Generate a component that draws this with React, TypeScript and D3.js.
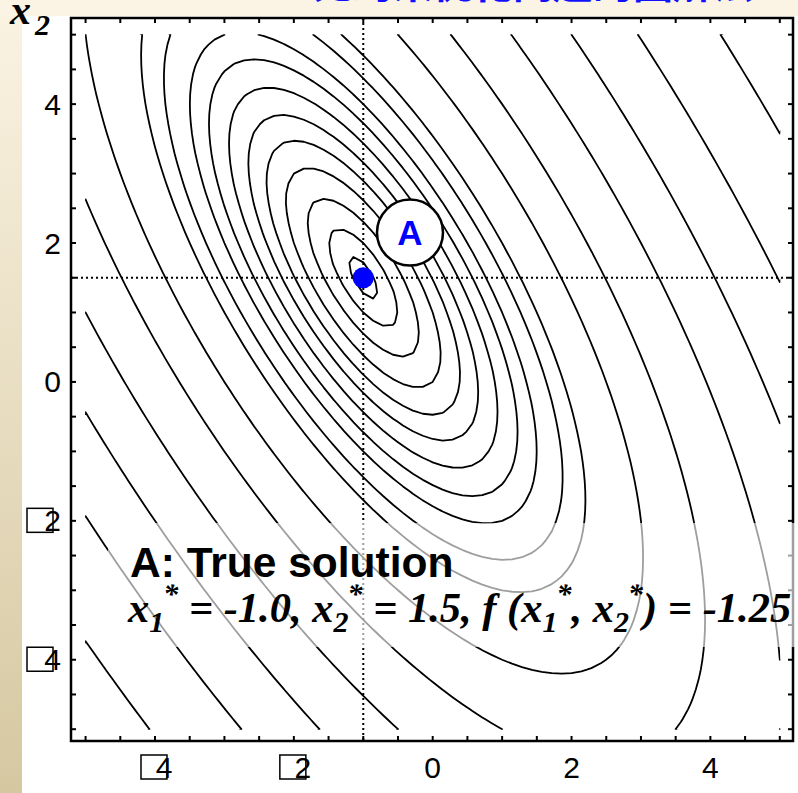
import React from "react";
import * as d3 from "d3";

const W = 798;
const H = 793;

// Objective: f(x1, x2) = x1 - x2 + 2*x1^2 + 2*x1*x2 + x2^2
const linearCoef = [1, -1];
const quadCoef = [2, 2, 1]; // x1^2, x1*x2, x2^2

// Iso-value levels of the contour map
const contourLevels = [-1.2, -1, -0.6, 0, 0.7, 1.5, 2.5, 3.7, 5, 7, 9, 15, 23, 35, 50, 70, 100];

// Sampled region and axes
const gridRange = [-5, 5];
const xDomain = [-5.21, 5.19];
const yDomain = [-5.17, 5.24];
const labelTicks = [-4, -2, 0, 2, 4];
const minorTicks = d3.range(-5, 5.001, 0.5);

// True solution
const solution = [-1.0, 1.5];
const calloutPos = [-0.327, 2.15];

const title = "无约束优化问题的图解法";

function f(x1: number, x2: number) {
  return (
    linearCoef[0] * x1 +
    linearCoef[1] * x2 +
    quadCoef[0] * x1 * x1 +
    quadCoef[1] * x1 * x2 +
    quadCoef[2] * x2 * x2
  );
}

export default function App() {
  const plot = { left: 71, right: 793, top: 18, bottom: 741 };
  const x = d3.scaleLinear().domain(xDomain).range([plot.left, plot.right]);
  const y = d3.scaleLinear().domain(yDomain).range([plot.bottom, plot.top]);

  const N = 71;
  const h = (gridRange[1] - gridRange[0]) / (N - 1);
  const values: number[] = new Array(N * N);
  for (let j = 0; j < N; j++) {
    for (let i = 0; i < N; i++) {
      values[j * N + i] = f(gridRange[0] + i * h, gridRange[0] + j * h);
    }
  }
  const contours = d3.contours().size([N, N]).thresholds(contourLevels)(values);
  const gx = (c: number) => gridRange[0] + (c - 0.5) * h;
  const path = d3.geoPath(
    d3.geoTransform({
      point(px: number, py: number) {
        (this as any).stream.point(x(gx(px)), y(gx(py)));
      },
    })
  );

  const clipX0 = x(gridRange[0]) - 0.5;
  const clipX1 = x(gridRange[1]) + 0.5;
  const clipY0 = y(gridRange[1]) - 0.5;
  const clipY1 = y(gridRange[0]) + 0.5;

  const tickLen = 5;
  const sans = "'Liberation Sans', Arial, sans-serif";
  const serif = "'Liberation Serif', 'Times New Roman', serif";

  const sub = (s: string) => (
    <>
      <tspan dy={10} fontSize={30}>{s}</tspan>
      <tspan dx={-1} dy={-28} fontSize={30}>*</tspan>
    </>
  );

  return (
    <svg
      width={W}
      height={H}
      viewBox={`0 0 ${W} ${H}`}
      style={{ position: "absolute", left: 0, top: 0, display: "block" }}
    >
      <defs>
        <linearGradient id="strip" x1="0" y1="0" x2="0" y2="1">
          <stop offset="0" stopColor="#fbf3e3" />
          <stop offset="1" stopColor="#d5c8a1" />
        </linearGradient>
        <clipPath id="gridClip">
          <rect x={clipX0} y={clipY0} width={clipX1 - clipX0} height={clipY1 - clipY0} />
        </clipPath>
      </defs>

      <rect x={0} y={0} width={W} height={H} fill="#ffffff" />
      <rect x={0} y={0} width={22} height={H} fill="url(#strip)" />
      <rect x={0} y={0} width={W} height={16} fill="#fbf3e3" />

      <text
        x={313}
        y={-2}
        fill="#1010ff"
        fontSize={40}
        fontWeight="bold"
        fontFamily="'Noto Sans CJK SC', sans-serif"
      >
        {title}
      </text>

      {/* contour lines */}
      <g clipPath="url(#gridClip)" fill="none" stroke="#000" strokeWidth={1.8} strokeLinejoin="round">
        {contours.map((c, i) => (
          <path key={i} d={path(c as any) || ""} />
        ))}
      </g>

      {/* reference lines through the solution */}
      <g stroke="#000" strokeWidth={2} strokeDasharray="2 3">
        <line x1={x(solution[0])} x2={x(solution[0])} y1={plot.top} y2={plot.bottom} />
        <line x1={plot.left} x2={plot.right} y1={y(solution[1])} y2={y(solution[1])} />
      </g>

      {/* frame and ticks */}
      <rect
        x={plot.left}
        y={plot.top}
        width={plot.right - plot.left}
        height={plot.bottom - plot.top}
        fill="none"
        stroke="#000"
        strokeWidth={2.5}
      />
      <g stroke="#000" strokeWidth={2}>
        {minorTicks.map((v) => (
          <g key={"t" + v}>
            <line x1={x(v)} x2={x(v)} y1={plot.bottom} y2={plot.bottom - tickLen} />
            <line x1={x(v)} x2={x(v)} y1={plot.top} y2={plot.top + tickLen} />
            <line x1={plot.left} x2={plot.left + tickLen} y1={y(v)} y2={y(v)} />
            <line x1={plot.right} x2={plot.right - tickLen} y1={y(v)} y2={y(v)} />
          </g>
        ))}
      </g>

      {/* solution point and callout */}
      <circle cx={x(solution[0])} cy={y(solution[1])} r={10.5} fill="#0000ff" />
      <circle
        cx={x(calloutPos[0])}
        cy={y(calloutPos[1])}
        r={33}
        fill="#fff"
        stroke="#000"
        strokeWidth={2.5}
      />
      <text
        x={x(calloutPos[0])}
        y={y(calloutPos[1]) + 12.5}
        textAnchor="middle"
        fill="#0000ff"
        fontSize={35}
        fontWeight="bold"
        fontFamily={sans}
      >
        A
      </text>

      {/* translucent panel behind the annotation */}
      <rect x={108} y={523} width={W - 108} height={124} fill="#fff" opacity={0.62} />

      <text x={130} y={577} fontSize={42.5} fontWeight="bold" fontFamily={sans} fill="#000">
        A: True solution
      </text>
      <text
        x={128}
        y={622}
        fontSize={42.5}
        fontWeight="bold"
        fontStyle="italic"
        fontFamily={serif}
        fill="#000"
      >
        <tspan>x</tspan>
        {sub("1")}
        <tspan dy={18}> = -1.0, x</tspan>
        {sub("2")}
        <tspan dy={18}> = 1.5, f (x</tspan>
        {sub("1")}
        <tspan dy={18}>, x</tspan>
        {sub("2")}
        <tspan dy={18}>) = -1.25</tspan>
      </text>

      {/* axis labels */}
      <g fontFamily={sans} fontSize={30} fill="#000">
        {labelTicks.map((v) =>
          v < 0 ? (
            <g key={"xl" + v}>
              <rect x={x(v) - 14} y={755} width={26} height={24} fill="none" stroke="#000" strokeWidth={1.5} />
              <text x={x(v) + 9} y={778} textAnchor="middle">{Math.abs(v)}</text>
            </g>
          ) : (
            <text key={"xl" + v} x={x(v)} y={778} textAnchor="middle">{v}</text>
          )
        )}
        {labelTicks.map((v) =>
          v < 0 ? (
            <g key={"yl" + v}>
              <rect x={27} y={y(v) - 12.5} width={26} height={24} fill="none" stroke="#000" strokeWidth={1.5} />
              <text x={61} y={y(v) + 10.5} textAnchor="end">{Math.abs(v)}</text>
            </g>
          ) : (
            <text key={"yl" + v} x={61} y={y(v) + 10.5} textAnchor="end">{v}</text>
          )
        )}
      </g>

      <text x={10} y={24} fontFamily={serif} fontWeight="bold" fontStyle="italic" fontSize={42}>
        x
      </text>
      <text x={35} y={35} fontFamily={serif} fontWeight="bold" fontStyle="italic" fontSize={30}>
        2
      </text>
    </svg>
  );
}
